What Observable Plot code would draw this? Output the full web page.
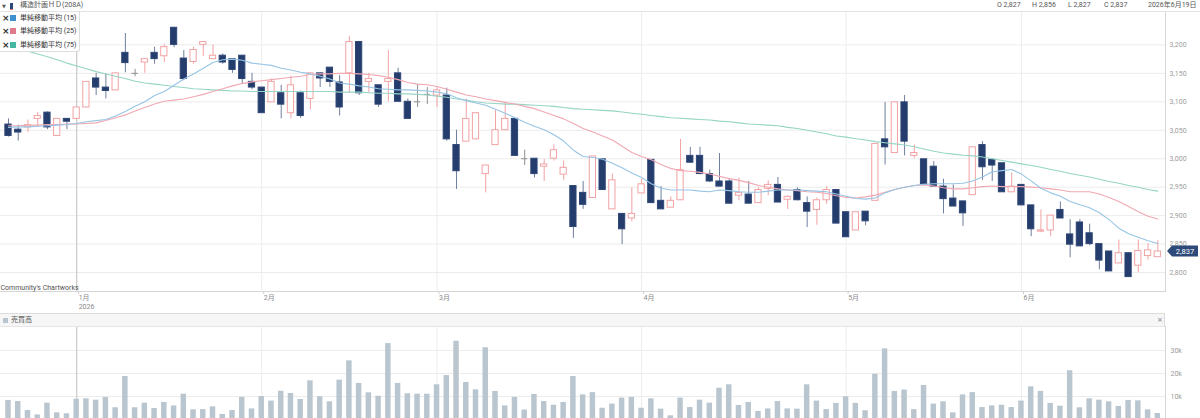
<!DOCTYPE html>
<html><head><meta charset="utf-8">
<script src="https://cdn.jsdelivr.net/npm/d3@7"></script>
<script src="https://cdn.jsdelivr.net/npm/@observablehq/plot@0.6"></script>
<style>
body{margin:0;background:#fff;font-family:Roboto,"Noto Sans CJK JP",sans-serif;}
#wrap{position:relative;width:1200px;height:418px;overflow:hidden;background:#fff;}
#price,#vol,#topbar,#legend,#volhead{position:absolute;left:0;}
#price{top:0;}
#vol{top:326px;}
#topbar{top:0;width:1200px;height:11px;border-bottom:1px solid #e2e2e2;font-size:7px;color:#555;background:#fff;}
#topbar span{position:absolute;top:1px;line-height:9px;white-space:nowrap;}
#legend{top:12px;width:79px;height:39px;background:#fff;border:1px solid #dedede;border-left:none;border-top:none;border-radius:0 0 3px 0;font-size:7px;color:#333;}
#legend .it{position:absolute;left:0;height:10px;line-height:10px;white-space:nowrap;}
#legend .x{position:absolute;left:2px;top:0;font-family:"DejaVu Sans",sans-serif;font-size:9px;font-weight:bold;color:#333;}
#legend .sq{position:absolute;left:10px;top:2px;width:6px;height:6px;}
#legend .t{position:absolute;left:20px;}
#volhead{top:313px;width:1164px;height:12px;background:#f6f6f6;border-top:1px solid #dcdcdc;border-bottom:1px solid #e6e6e6;border-right:1px solid #dcdcdc;font-size:7px;color:#555;}
#volhead span{position:absolute;top:1px;line-height:11px;}
</style></head><body>
<div id="wrap">
  <div id="price"></div>
  <div id="vol"></div>
  <div id="topbar"></div>
  <div id="legend"></div>
  <div id="volhead"></div>
</div>
<script>
// ---- data ----
const monthKeys = ["2025-12","2026-01","2026-02","2026-03","2026-04","2026-05","2026-06"];
const tradingDays = [
  [22,23,24,25,26,29,30],
  [5,6,7,8,9,13,14,15,16,19,20,21,22,23,26,27,28,29,30],
  [2,3,4,5,6,9,10,12,13,16,17,18,19,20,24,25,26,27],
  [2,3,4,5,6,9,10,11,12,13,16,17,18,19,23,24,25,26,27,30,31],
  [1,2,3,6,7,8,9,10,13,14,15,16,17,20,21,22,23,24,27,28,30],
  [1,7,8,11,12,13,14,15,18,19,20,21,22,25,26,27,28,29],
  [1,2,3,4,5,8,9,10,11,12,15,16,17,18,19]
];
const open  = [3060,3051,3055,3070,3081,3040,3070,3070,3090,3141,3125,3120,3186,3150,3169,3186,3180,3230,3176,3170,3200,3175,3181,3175,3181,3135,3125,3099,3115,3080,3115,3105,3150,3160,3134,3150,3205,3135,3129,3135,3150,3100,3100,3113,3111,3111,3024,3030,3034,2973,3024,3050,3070,3000,3000,2986,3000,2972,2952,2940,2931,2999,2911,2903,2895,2939,2998,2926,2914,2927,3005,3005,2973,2960,2960,2935,2937,2922,2947,2954,2928,2945,2922,2910,2927,2945,2906,2874,2907,2926,3034,3010,3099,3005,2999,2986,2951,2930,2925,2936,3024,2998,2992,2941,2954,2918,2872,2874,2910,2867,2888,2869,2850,2837,2816,2834,2812,2829,2827];
const high  = [3070,3059,3068,3081,3082,3070,3070,3090,3135,3150,3149,3150,3220,3157,3175,3196,3200,3231,3190,3196,3205,3200,3184,3175,3181,3150,3125,3140,3129,3145,3119,3150,3150,3160,3146,3215,3205,3150,3129,3190,3159,3105,3130,3125,3125,3124,3050,3105,3080,2988,3085,3099,3070,3015,3000,2999,3024,2996,2952,2960,3004,2999,2973,2904,2949,2964,2998,2951,2933,3034,3020,3020,2980,3009,2964,2966,2960,2949,2961,2967,2935,2949,2933,2931,2951,2945,2906,2906,2907,3026,3099,3099,3111,3024,2999,2995,2964,2954,2925,3020,3030,2999,2992,2975,2954,2918,2910,2900,2924,2893,2893,2885,2850,2837,2857,2834,2857,2851,2856];
const low   = [3038,3031,3046,3055,3051,3040,3051,3069,3090,3111,3105,3120,3151,3144,3150,3166,3169,3195,3137,3166,3180,3175,3166,3150,3131,3121,3080,3099,3070,3070,3071,3086,3125,3125,3075,3115,3111,3115,3090,3100,3100,3070,3090,3095,3090,3031,2946,3030,3034,2940,3024,3050,3005,2988,2966,2960,2996,2962,2860,2911,2931,2945,2911,2849,2889,2939,2922,2911,2914,2927,2992,2972,2958,2951,2921,2926,2921,2922,2935,2923,2911,2926,2879,2883,2920,2886,2862,2874,2882,2926,2989,3010,3005,3000,2955,2951,2903,2916,2881,2936,2962,2960,2941,2941,2918,2863,2870,2863,2895,2826,2846,2847,2805,2802,2816,2792,2800,2822,2827];
const close = [3040,3046,3059,3075,3055,3070,3065,3090,3135,3125,3119,3150,3168,3150,3175,3175,3196,3200,3140,3191,3205,3181,3169,3156,3140,3125,3080,3135,3095,3129,3075,3150,3141,3135,3090,3205,3115,3140,3095,3140,3100,3070,3100,3113,3120,3034,2978,3070,3080,2988,3050,3070,3005,3000,2973,2990,3015,2984,2880,2919,3004,2945,2962,2876,2903,2955,2922,2911,2926,2980,2993,2973,2960,2951,2921,2940,2921,2945,2954,2923,2933,2927,2907,2927,2945,2886,2862,2906,2890,3026,3020,3099,3030,3010,2955,2951,2929,2916,2904,3020,2985,2988,2941,2951,2918,2876,2874,2900,2895,2849,2846,2850,2821,2802,2834,2792,2838,2839,2837];
const volume = [8300,7800,3900,2000,7100,2900,2500,8800,9000,8400,9600,5100,18700,5100,7100,4800,7400,5900,11000,4200,4300,5500,2200,3900,9600,4600,10000,8000,12300,11300,8700,16800,9900,7700,17100,25500,15700,11600,10100,33000,15700,11200,11000,11000,15100,19100,34000,16100,12900,31200,12200,5900,9600,4100,10900,7800,6200,7400,18700,10700,11700,4900,6700,9300,9600,4900,9000,4500,1600,9300,5200,8400,7100,13600,15100,6100,7400,3500,4600,7800,4600,4500,15100,8000,4300,7000,9900,7000,3800,19700,30700,12200,12800,4300,14800,6700,7700,2900,10700,11700,5200,5900,6200,5200,8000,14200,12200,7000,5800,21200,5100,9000,8400,7700,5700,8300,8100,4200,2600];
const sma15 = [3055,3056,3056,3057,3058,3059,3060,3062,3065,3067,3069,3075,3083,3092,3100,3111,3118,3129,3140,3149,3159,3169,3174,3175,3173,3168,3166,3164,3159,3156,3152,3149,3145,3140,3133,3131,3128,3126,3123,3122,3121,3121,3120,3119,3117,3114,3107,3102,3098,3094,3087,3080,3072,3064,3057,3051,3042,3031,3015,3004,3002,2999,2992,2984,2975,2967,2956,2948,2945,2945,2945,2943,2942,2945,2944,2942,2941,2941,2943,2945,2945,2945,2944,2943,2942,2938,2934,2930,2929,2931,2940,2946,2950,2953,2955,2956,2956,2956,2957,2961,2968,2977,2979,2981,2973,2961,2948,2940,2934,2925,2919,2914,2905,2893,2878,2868,2862,2856,2851];
const sma25 = [3058,3058,3059,3059,3060,3060,3061,3061,3062,3063,3067,3072,3077,3084,3090,3096,3101,3103,3105,3109,3113,3118,3123,3128,3132,3135,3137,3139,3141,3143,3145,3148,3149,3149,3150,3150,3149,3148,3146,3143,3139,3134,3131,3130,3127,3122,3117,3112,3109,3105,3102,3099,3096,3092,3088,3082,3076,3070,3062,3053,3047,3040,3033,3022,3011,3004,2998,2990,2983,2979,2978,2976,2973,2969,2965,2962,2958,2953,2950,2947,2945,2944,2942,2941,2939,2935,2932,2931,2933,2936,2941,2946,2950,2953,2954,2952,2949,2947,2947,2949,2951,2952,2951,2951,2951,2950,2949,2947,2945,2942,2942,2942,2938,2932,2925,2916,2907,2899,2894];
const sma75 = [3198,3193,3189,3184,3179,3174,3168,3163,3158,3153,3149,3145,3141,3136,3133,3131,3129,3127,3125,3123,3122,3121,3120,3119,3119,3118,3118,3118,3118,3118,3118,3118,3118,3118,3117,3117,3117,3116,3115,3115,3114,3114,3113,3112,3110,3108,3105,3103,3100,3098,3097,3096,3096,3095,3094,3093,3092,3090,3088,3087,3086,3085,3084,3082,3080,3078,3076,3074,3072,3071,3070,3069,3068,3066,3065,3063,3061,3060,3059,3058,3055,3053,3050,3047,3044,3040,3038,3035,3033,3030,3028,3026,3024,3021,3017,3013,3010,3008,3006,3005,3003,3000,2997,2994,2991,2988,2985,2981,2978,2974,2971,2968,2964,2960,2957,2953,2950,2946,2943];
const priceTicks = [2800,2850,2900,2950,3000,3050,3100,3150,3200];
const volumeTicks = [10000,20000,30000];
const maNames = ["単純移動平均 (15)","単純移動平均 (25)","単純移動平均 (75)"];
const stockName = "構造計画ＨＤ(208A)";
const volumeName = "売買高";
const watermark = "Community's Chartworks";

// ---- build rows ----
const dates = [];
const monthStarts = [];
monthKeys.forEach((mk, m) => {
  if (m > 0) {
    const [y, mo] = mk.split("-").map(Number);
    monthStarts.push({i: dates.length, label: mo + "月" + (mo === 1 ? "\n" + y : ""), yearStart: mo === 1});
  }
  tradingDays[m].forEach(d => dates.push(mk + "-" + String(d).padStart(2, "0")));
});
const rows = dates.map((date, i) => ({i, date, open: open[i], high: high[i], low: low[i], close: close[i],
  volume: volume[i], ma15: sma15[i], ma25: sma25[i], ma75: sma75[i]}));
const last = rows[rows.length - 1];
const fmt = d3.format(",");

// colors
const navy = "#243d6c", navyStroke = "#2e4677", navyWick = "#6f7f9e";
const pink = "#f2a2a4", grey = "#8f8f8f";
const maColors = ["#97c5e5", "#f1a8b2", "#95d5c5"];
const legendColors = ["#3e90cf", "#e07a8a", "#45b6a2"];
const kind = d => d.close > d.open ? "up" : d.close < d.open ? "down" : "flat";
const wickColor = d => ({up: pink, down: navyWick, flat: grey})[kind(d)];

const xDomain = [-0.82, 118.79];
const font = 'Roboto, "Noto Sans CJK JP", sans-serif';
const half = 0.32;

function lastPriceMark(value, label) {
  return (index, scales, values, dimensions) => {
    const y = scales.y(value);
    const x0 = dimensions.width - dimensions.marginRight;
    const g = d3.create("svg:g");
    g.append("path")
      .attr("d", `M${x0 + 2},${y} L${x0 + 7},${y - 5.5} H${x0 + 33} V${y + 5.5} H${x0 + 7} Z`)
      .attr("fill", "#2d4a7a");
    g.append("text").attr("x", x0 + 20).attr("y", y).attr("dy", "0.35em")
      .attr("text-anchor", "middle").attr("fill", "#fff").attr("font-size", 7.5)
      .attr("font-family", font).text(label);
    return g.node();
  };
}

const pricePlot = Plot.plot({
  width: 1200, height: 313,
  marginTop: 12, marginBottom: 22, marginLeft: 0, marginRight: 35,
  x: {type: "linear", domain: xDomain, axis: null, label: null},
  y: {domain: [2766.7, 3256.9], axis: null, label: null},
  style: {fontFamily: font, fontSize: "7px", background: "transparent"},
  marks: [
    Plot.gridY(priceTicks, {stroke: "#ececec", strokeOpacity: 1}),
    Plot.ruleX(monthStarts, {x: "i", stroke: d => d.yearStart ? "#cdcdcd" : "#ececec", strokeWidth: d => d.yearStart ? 1.3 : 1}),
    Plot.frame({anchor: "right", stroke: "#d6d6d6"}),
    Plot.frame({anchor: "bottom", stroke: "#d6d6d6"}),
    Plot.axisY(priceTicks, {anchor: "right", label: null, tickSize: 0, tickPadding: 4, tickFormat: fmt, fill: "#9c9c9c", fontSize: 7}),
    Plot.axisX(monthStarts.map(d => d.i), {anchor: "bottom", label: null, tickSize: 3, tickPadding: 0, stroke: "#cfcfcf",
      tickFormat: i => monthStarts.find(d => d.i === i).label, textAnchor: "start", dx: 2,
      fill: "#8a8a8a", fontSize: 7, lineHeight: 1.2}),
    Plot.text([watermark], {frameAnchor: "bottom-left", text: d => d, dy: -2, dx: 0, fill: "#555", fontSize: 7}),
    Plot.ruleX(rows, {x: "i", y1: "low", y2: "high", stroke: wickColor, strokeWidth: 1}),
    Plot.rect(rows.filter(d => kind(d) !== "flat"), {
      x1: d => d.i - half, x2: d => d.i + half, y1: "open", y2: "close",
      fill: d => kind(d) === "up" ? "#fff" : navy,
      stroke: d => kind(d) === "up" ? pink : navyStroke, strokeWidth: 1}),
    Plot.ruleY(rows.filter(d => kind(d) === "flat"), {y: "close", x1: d => d.i - half, x2: d => d.i + half, stroke: grey}),
    Plot.line(rows, {x: "i", y: "ma75", stroke: maColors[2], strokeWidth: 1.1}),
    Plot.line(rows, {x: "i", y: "ma25", stroke: maColors[1], strokeWidth: 1.1}),
    Plot.line(rows, {x: "i", y: "ma15", stroke: maColors[0], strokeWidth: 1.1}),
    lastPriceMark(last.close, fmt(last.close))
  ]
});
document.getElementById("price").appendChild(pricePlot);

const volPlot = Plot.plot({
  width: 1200, height: 93,
  marginTop: 0, marginBottom: 0, marginLeft: 0, marginRight: 35,
  x: {type: "linear", domain: xDomain, axis: null, label: null},
  y: {domain: [0, 40435], axis: null, label: null},
  style: {fontFamily: font, fontSize: "7px", background: "transparent"},
  marks: [
    Plot.gridY(volumeTicks, {stroke: "#ececec", strokeOpacity: 1}),
    Plot.ruleX(monthStarts, {x: "i", stroke: d => d.yearStart ? "#cdcdcd" : "#ececec", strokeWidth: d => d.yearStart ? 1.3 : 1}),
    Plot.rect(rows, {x1: d => d.i - 0.28, x2: d => d.i + 0.28, y1: 0, y2: "volume", fill: "#b9c6cf"}),
    Plot.frame({anchor: "right", stroke: "#d6d6d6"}),
    Plot.axisY(volumeTicks, {anchor: "right", label: null, tickSize: 0, tickPadding: 5, tickFormat: d => d / 1000 + "k", fill: "#9c9c9c", fontSize: 7})
  ]
});
document.getElementById("vol").appendChild(volPlot);

// top bar
const tb = document.getElementById("topbar");
const lastDate = new Date(last.date + "T00:00:00");
const headerItems = [
  {x: 2, html: '<span style="font-family:DejaVu Sans;font-size:5px;color:#555">▼</span>'},
  {x: 10, html: '<span style="display:inline-block;width:3px;height:6px;background:#e06a78;margin-top:1px"></span><span style="display:inline-block;width:1px;height:6px;background:#fff"></span><span style="display:inline-block;width:3px;height:6px;background:#2d4a7a"></span>'},
  {x: 20, html: stockName},
  {x: 997, html: "O " + fmt(last.open)},
  {x: 1032, html: "H " + fmt(last.high)},
  {x: 1068, html: "L " + fmt(last.low)},
  {x: 1104, html: "C " + fmt(last.close)},
  {x: 1148, html: lastDate.getFullYear() + "年" + (lastDate.getMonth() + 1) + "月" + lastDate.getDate() + "日"}
];
headerItems.forEach(h => { const s = document.createElement("span"); s.style.left = h.x + "px"; s.innerHTML = h.html; tb.appendChild(s); });
tb.children[1].style.top = "2px"; tb.children[1].style.lineHeight = "0";

// legend
const lg = document.getElementById("legend");
maNames.forEach((n, k) => {
  const it = document.createElement("div");
  it.className = "it"; it.style.top = (1 + k * 13.3) + "px";
  it.innerHTML = `<span class="x">×</span><span class="sq" style="background:${legendColors[k]}"></span><span class="t">${n}</span>`;
  lg.appendChild(it);
});

// volume header
const vh = document.getElementById("volhead");
vh.innerHTML = `<span style="left:3px;top:4px;width:5px;height:5px;background:#b9c6cf;line-height:0"></span><span style="left:11px">${volumeName}</span><span style="left:1157px;font-family:DejaVu Sans;font-size:7px;color:#777">×</span>`;
</script>
</body></html>
